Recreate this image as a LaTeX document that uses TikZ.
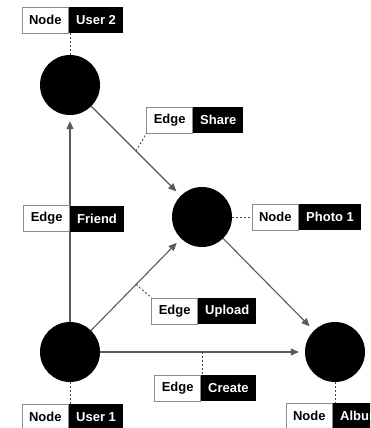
\documentclass[tikz,border=0pt]{standalone}
\usepackage{fontspec}
\setmainfont{Liberation Sans}
\usetikzlibrary{arrows.meta, positioning, calc}

\begin{document}
\begin{tikzpicture}[x=1pt, y=-1pt, >={Triangle[length=8pt, width=7pt]},
    vertex/.style={circle, fill=black, minimum size=60pt, inner sep=0pt},
    link/.style={->, draw=black!65, line width=1.1pt, shorten >=6pt},
    keybox/.style={draw=black!45, line width=0.8pt, fill=white, text=black,
        minimum height=26pt, inner xsep=7pt, font=\fontsize{13}{15}\selectfont\bfseries},
    valbox/.style={fill=black, text=white, minimum height=26pt, inner xsep=7pt,
        font=\fontsize{13}{15}\selectfont\bfseries},
    tether/.style={dash pattern=on 2pt off 2pt, draw=black!75, line width=0.8pt}]

    % Canvas
    \path[use as bounding box, clip] (0,0) rectangle (370,428);

    % Vertices
    \node[vertex] (u2) at (70,85) {};
    \node[vertex] (p1) at (202,217) {};
    \node[vertex] (u1) at (70,352) {};
    \node[vertex] (al) at (335,352) {};

    % Edges
    \draw[link] (u1) -- coordinate[pos=0.5] (friendMid) (u2);
    \draw[link] (u2) -- coordinate[pos=0.5] (shareMid) (p1);
    \draw[link] (u1) -- coordinate[pos=0.5] (uploadMid) (p1);
    \draw[link] (p1) -- (al);
    \draw[link] (u1) -- coordinate[pos=0.5] (createMid) (al);

    % Node labels
    \node[keybox, anchor=east] (u2k) at (69,20) {Node};
    \node[valbox, anchor=west] (u2v) at (69,20) {User 2};
    \node[keybox, anchor=east] (p1k) at (299,217) {Node};
    \node[valbox, anchor=west] (p1v) at (299,217) {Photo 1};
    \node[keybox, anchor=east] (u1k) at (69,417) {Node};
    \node[valbox, anchor=west] (u1v) at (69,417) {User 1};
    \node[keybox, anchor=east] (alk) at (333,416) {Node};
    \node[valbox, anchor=west] (alv) at (333,416) {Album};

    % Edge labels
    \node[keybox, anchor=east] (frk) at (friendMid) {Edge};
    \node[valbox, anchor=west] (frv) at (friendMid) {Friend};
    \node[keybox, anchor=east] (shk) at (193,120) {Edge};
    \node[valbox, anchor=west] (shv) at (193,120) {Share};
    \node[keybox, anchor=east] (upk) at (198,311) {Edge};
    \node[valbox, anchor=west] (upv) at (198,311) {Upload};
    \node[keybox, anchor=east] (crk) at (201,388) {Edge};
    \node[valbox, anchor=west] (crv) at (201,388) {Create};

    % Dashed tethers
    \draw[tether] (u2.north) -- (u2.north |- u2v.south);
    \draw[tether] (p1.east) -- (p1k.west);
    \draw[tether] (u1.south) -- (u1.south |- u1v.north);
    \draw[tether] (al.south) -- (al.south |- alv.north);
    \draw[tether] (shareMid) -- (shk.south west);
    \draw[tether] (uploadMid) -- (upk.north west);
    \draw[tether] (createMid) -- (createMid |- crk.north);

\end{tikzpicture}
\end{document}
